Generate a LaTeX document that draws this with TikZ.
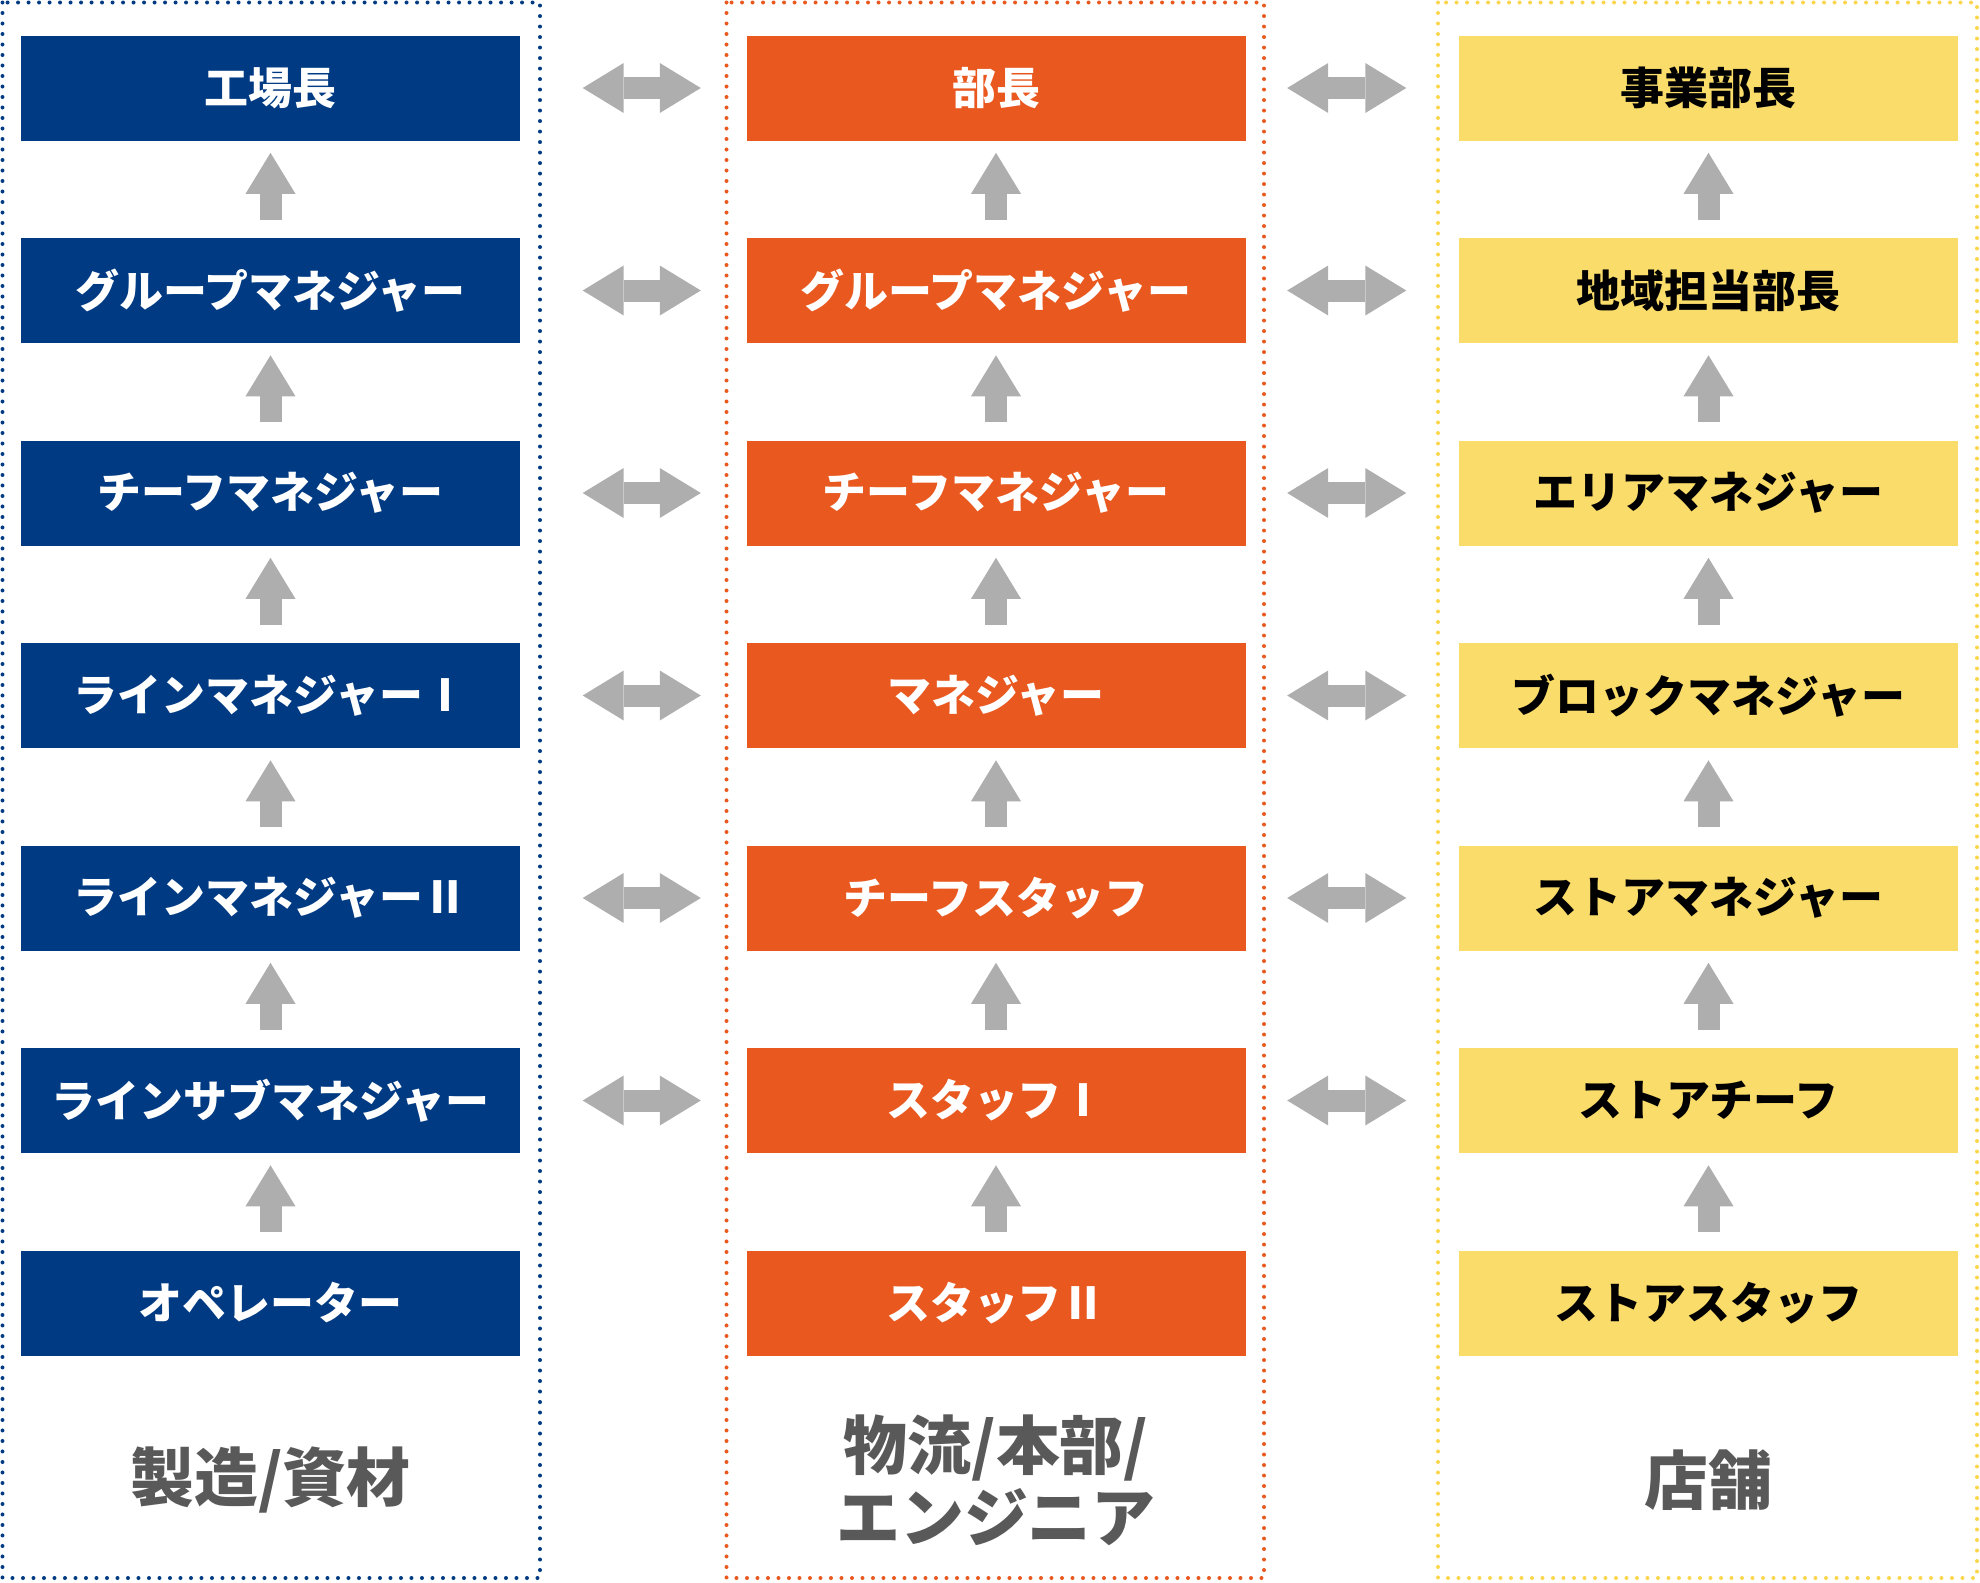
\documentclass[tikz,border=0pt]{standalone}
\usepackage{fontspec}
\setmainfont{Noto Sans CJK JP}
\usetikzlibrary{arrows.meta}
\definecolor{fblue}{RGB}{0,58,130}
\definecolor{borange}{RGB}{232,88,31}
\definecolor{syellow}{RGB}{250,220,106}
\definecolor{ydots}{RGB}{251,214,76}
\definecolor{agray}{RGB}{174,174,174}
\definecolor{tgray}{RGB}{89,89,89}

\begin{document}
\begin{tikzpicture}[x={(0.1mm, 0mm)}, y={(0mm, -0.1mm)}]
  \tikzstyle{post}=[minimum width=49.9mm, minimum height=10.5mm, inner sep=0pt, font=\bfseries\fontsize{12.5pt}{15pt}\selectfont]
  \tikzstyle{fpost}=[post, fill=fblue, text=white]
  \tikzstyle{bpost}=[post, fill=borange, text=white]
  \tikzstyle{spost}=[post, fill=syellow, text=black]
  \tikzstyle{frame}=[line width=0.4mm, dash pattern=on 0mm off 1.05mm, line cap=round]
  \tikzstyle{group}=[text=tgray, font=\bfseries\fontsize{18.2pt}{20.5pt}\selectfont, align=center]
  \tikzstyle{upto}=[agray, line width=2.2mm, -{Triangle[length=4.1mm, width=5mm, line width=0pt]}, shorten <=1.78mm, shorten >=1.16mm]
  \tikzstyle{both}=[agray, line width=2.2mm, {Triangle[length=4.1mm, width=5mm, line width=0pt]}-{Triangle[length=4.1mm, width=5mm, line width=0pt]}]

\useasboundingbox (0, 0) rectangle (1980, 1583);

\draw[frame, fblue] (2.5, 2.5) rectangle (540, 1578);
\draw[frame, borange] (726.5, 2.5) rectangle (1264, 1578);
\draw[frame, ydots] (1438, 2.5) rectangle (1977, 1578);

% 製造/資材
\node[fpost] (f1) at (270.5, 88) {工場長};
\node[fpost] (f2) at (270.5, 290.5) {グループマネジャー};
\node[fpost] (f3) at (270.5, 493) {チーフマネジャー};
\node[fpost] (f4) at (270.5, 695.5) {ラインマネジャーⅠ};
\node[fpost] (f5) at (270.5, 898) {ラインマネジャーⅡ};
\node[fpost] (f6) at (270.5, 1100.5) {ラインサブマネジャー};
\node[fpost] (f7) at (270.5, 1303) {オペレーター};
\node[group] (g1) at (270.5, 1480) {製造/資材};

% 物流/本部/エンジニア
\node[bpost] (b1) at (996, 88) {部長};
\node[bpost] (b2) at (996, 290.5) {グループマネジャー};
\node[bpost] (b3) at (996, 493) {チーフマネジャー};
\node[bpost] (b4) at (996, 695.5) {マネジャー};
\node[bpost] (b5) at (996, 898) {チーフスタッフ};
\node[bpost] (b6) at (996, 1100.5) {スタッフⅠ};
\node[bpost] (b7) at (996, 1303) {スタッフⅡ};
\node[group] (g2) at (996, 1480) {物流/本部/\\エンジニア};

% 店舗
\node[spost] (s1) at (1708.5, 88) {事業部長};
\node[spost] (s2) at (1708.5, 290.5) {地域担当部長};
\node[spost] (s3) at (1708.5, 493) {エリアマネジャー};
\node[spost] (s4) at (1708.5, 695.5) {ブロックマネジャー};
\node[spost] (s5) at (1708.5, 898) {ストアマネジャー};
\node[spost] (s6) at (1708.5, 1100.5) {ストアチーフ};
\node[spost] (s7) at (1708.5, 1303) {ストアスタッフ};
\node[group] (g3) at (1708.5, 1480) {店舗};

  \draw[upto] (f2) -- (f1);
  \draw[upto] (f3) -- (f2);
  \draw[upto] (f4) -- (f3);
  \draw[upto] (f5) -- (f4);
  \draw[upto] (f6) -- (f5);
  \draw[upto] (f7) -- (f6);
  \draw[upto] (b2) -- (b1);
  \draw[upto] (b3) -- (b2);
  \draw[upto] (b4) -- (b3);
  \draw[upto] (b5) -- (b4);
  \draw[upto] (b6) -- (b5);
  \draw[upto] (b7) -- (b6);
  \draw[upto] (s2) -- (s1);
  \draw[upto] (s3) -- (s2);
  \draw[upto] (s4) -- (s3);
  \draw[upto] (s5) -- (s4);
  \draw[upto] (s6) -- (s5);
  \draw[upto] (s7) -- (s6);
  \draw[both, shorten <=6.2mm, shorten >=4.5mm] (f1) -- (b1);
  \draw[both, shorten <=6.2mm, shorten >=4.5mm] (f2) -- (b2);
  \draw[both, shorten <=6.2mm, shorten >=4.5mm] (f3) -- (b3);
  \draw[both, shorten <=6.2mm, shorten >=4.5mm] (f4) -- (b4);
  \draw[both, shorten <=6.2mm, shorten >=4.5mm] (f5) -- (b5);
  \draw[both, shorten <=6.2mm, shorten >=4.5mm] (f6) -- (b6);
  \draw[both, shorten <=4.1mm, shorten >=5.2mm] (b1) -- (s1);
  \draw[both, shorten <=4.1mm, shorten >=5.2mm] (b2) -- (s2);
  \draw[both, shorten <=4.1mm, shorten >=5.2mm] (b3) -- (s3);
  \draw[both, shorten <=4.1mm, shorten >=5.2mm] (b4) -- (s4);
  \draw[both, shorten <=4.1mm, shorten >=5.2mm] (b5) -- (s5);
  \draw[both, shorten <=4.1mm, shorten >=5.2mm] (b6) -- (s6);
\end{tikzpicture}
\end{document}
